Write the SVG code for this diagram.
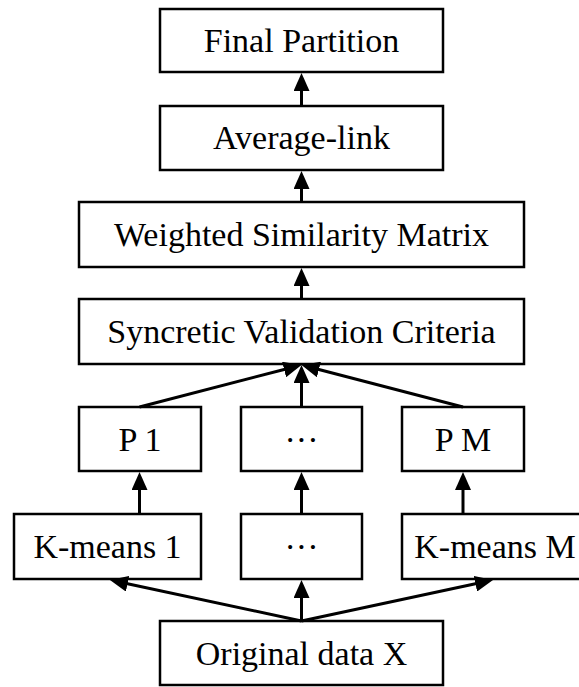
<svg xmlns="http://www.w3.org/2000/svg" width="579" height="687" viewBox="0 0 579 687">
  <style>
    .box { fill: #ffffff; stroke: #000000; stroke-width: 2.5; }
    .lbl { font-family: "Liberation Serif", "Times New Roman", serif; font-size: 34px; fill: #000000; text-anchor: middle; }
    .edge { fill: none; stroke: #000000; stroke-width: 3; }
  </style>
  <defs>
    <marker id="arrow" markerUnits="userSpaceOnUse" markerWidth="18" markerHeight="16" refX="6" refY="8" orient="auto">
      <path d="M0,0 L18,8 L0,16 z" fill="#000000"/>
    </marker>
  </defs>

  <g id="final-partition">
    <rect class="box" x="160" y="9" width="283" height="63"/>
    <text class="lbl" x="301.5" y="52">Final Partition</text>
  </g>
  <g id="average-link">
    <rect class="box" x="160" y="106" width="283" height="64"/>
    <text class="lbl" x="301.5" y="149">Average-link</text>
  </g>
  <g id="weighted-similarity-matrix">
    <rect class="box" x="79" y="202" width="445" height="65"/>
    <text class="lbl" x="301.5" y="246">Weighted Similarity Matrix</text>
  </g>
  <g id="syncretic-validation-criteria">
    <rect class="box" x="79" y="299" width="445" height="65"/>
    <text class="lbl" x="301.5" y="343">Syncretic Validation Criteria</text>
  </g>
  <g id="p-1">
    <rect class="box" x="79" y="407" width="122" height="64"/>
    <text class="lbl" x="140" y="451">P 1</text>
  </g>
  <g id="p-dots">
    <rect class="box" x="241" y="407" width="121" height="64"/>
    <text class="lbl" x="301.5" y="451">···</text>
  </g>
  <g id="p-m">
    <rect class="box" x="402" y="407" width="122" height="64"/>
    <text class="lbl" x="463" y="451">P M</text>
  </g>
  <g id="kmeans-1">
    <rect class="box" x="14" y="514" width="187" height="65"/>
    <text class="lbl" x="107.5" y="558">K-means 1</text>
  </g>
  <g id="kmeans-dots">
    <rect class="box" x="241" y="514" width="121" height="65"/>
    <text class="lbl" x="301.5" y="558">···</text>
  </g>
  <g id="kmeans-m">
    <rect class="box" x="402" y="514" width="190" height="65"/>
    <text class="lbl" x="495" y="558">K-means M</text>
  </g>
  <g id="original-data">
    <rect class="box" x="160" y="621" width="283" height="64"/>
    <text class="lbl" x="301.5" y="665">Original data X</text>
  </g>

  <g id="connectors">
    <!-- vertical chain at the top -->
    <line class="edge" x1="301.5" y1="106" x2="301.5" y2="85" marker-end="url(#arrow)"/>
    <line class="edge" x1="301.5" y1="202" x2="301.5" y2="183" marker-end="url(#arrow)"/>
    <line class="edge" x1="301.5" y1="299" x2="301.5" y2="280" marker-end="url(#arrow)"/>
    <!-- partitions into the validation criteria -->
    <line class="edge" x1="139.5" y1="407" x2="289.9" y2="368" marker-end="url(#arrow)"/>
    <line class="edge" x1="301.5" y1="407" x2="301.5" y2="377" marker-end="url(#arrow)"/>
    <line class="edge" x1="463" y1="407" x2="313.1" y2="368" marker-end="url(#arrow)"/>
    <!-- k-means runs into partitions -->
    <line class="edge" x1="139.5" y1="514" x2="139.5" y2="484" marker-end="url(#arrow)"/>
    <line class="edge" x1="301.5" y1="514" x2="301.5" y2="484" marker-end="url(#arrow)"/>
    <line class="edge" x1="463" y1="514" x2="463" y2="484" marker-end="url(#arrow)"/>
    <!-- original data fanning out -->
    <line class="edge" x1="301.5" y1="621" x2="121.7" y2="582.5" marker-end="url(#arrow)"/>
    <line class="edge" x1="301.5" y1="621" x2="301.5" y2="592" marker-end="url(#arrow)"/>
    <line class="edge" x1="301.5" y1="621" x2="481.3" y2="582.5" marker-end="url(#arrow)"/>
  </g>
</svg>
